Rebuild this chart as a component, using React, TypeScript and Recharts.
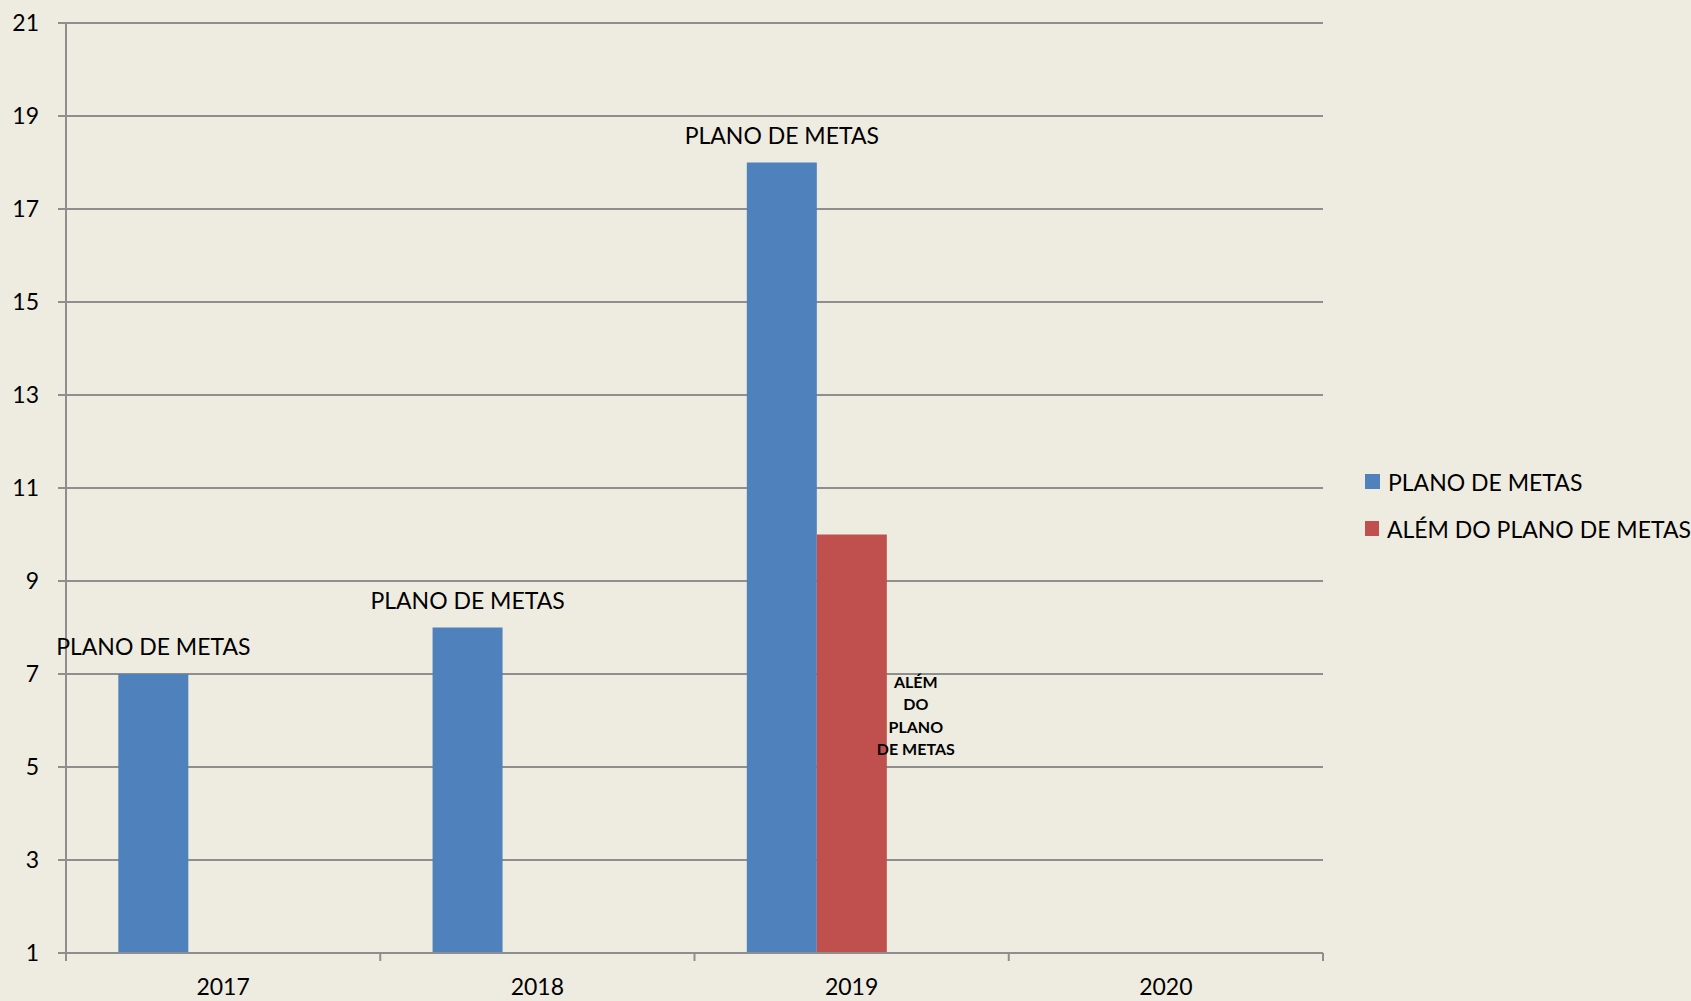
import {
    BarChart,
    Bar,
    XAxis,
    YAxis,
    CartesianGrid,
    Legend,
    LabelList,
} from "recharts";

// ────────────────────────────────────────────────────────────────────────────────
// Data
// ────────────────────────────────────────────────────────────────────────────────

const YEARS = ["2017", "2018", "2019", "2020"];
const PLANO_DE_METAS = [7, 8, 18, null];
const ALEM_DO_PLANO = [null, null, 10, null];
// empty third series in the source workbook, still takes a slot in each cluster
const SERIE_VAZIA = [null, null, null, null];
const Y_TICKS = [1, 3, 5, 7, 9, 11, 13, 15, 17, 19, 21];
const SERIES_NAMES = ["PLANO DE METAS", "ALÉM DO PLANO DE METAS"];

const data = YEARS.map((year, i) => ({
    year,
    plano: PLANO_DE_METAS[i],
    alem: ALEM_DO_PLANO[i],
    vazio: SERIE_VAZIA[i],
}));

// ────────────────────────────────────────────────────────────────────────────────
// Styling
// ────────────────────────────────────────────────────────────────────────────────

const FONT = "Lato, 'Liberation Sans', sans-serif";
const BG = "#EEECE1";
const GRID = "#8E8E8E";
const BLUE = "#4F81BD";
const RED = "#C0504D";
const TEXT_SIZE = 23;

// ────────────────────────────────────────────────────────────────────────────────
// Renderers
// ────────────────────────────────────────────────────────────────────────────────

function XTick(props: any) {
    const { x, y, payload, index, visibleTicksCount } = props;
    const half = payload?.offset ?? 157;
    const last = index === (visibleTicksCount ?? YEARS.length) - 1;
    return (
        <g>
            <line x1={x - half} y1={y} x2={x - half} y2={y + 8} stroke={GRID} strokeWidth={2} />
            {last && (
                <line x1={x + half} y1={y} x2={x + half} y2={y + 8} stroke={GRID} strokeWidth={2} />
            )}
            <text x={x} y={y + 42} textAnchor="middle" fontSize={TEXT_SIZE} fontFamily={FONT} fill="#000">
                {payload.value}
            </text>
        </g>
    );
}

function PlanoLabel(props: any) {
    const { x, y, width, value } = props;
    if (value == null) return null;
    return (
        <text
            x={x + width / 2}
            y={y - 19}
            textAnchor="middle"
            fontSize={TEXT_SIZE}
            fontFamily={FONT}
            fill="#000"
        >
            PLANO DE METAS
        </text>
    );
}

function AlemLabel(props: any) {
    const { x, y, width, height, value } = props;
    if (value == null) return null;
    const lines = ["ALÉM", "DO", "PLANO", "DE METAS"];
    const cx = x + width + 29;
    const cy = y + height * 0.43;
    const lh = 22.5;
    const start = cy - ((lines.length - 1) * lh) / 2;
    return (
        <text
            textAnchor="middle"
            fontSize={16}
            fontWeight="bold"
            fontFamily={FONT}
            fill="#000"
            dominantBaseline="central"
        >
            {lines.map((l, i) => (
                <tspan key={l} x={cx} y={start + i * lh}>
                    {l}
                </tspan>
            ))}
        </text>
    );
}

function LegendBox(props: any) {
    const items = (props.payload || [])
        .filter((p: any) => p.type !== "none")
        .sort((a: any, b: any) => SERIES_NAMES.indexOf(a.value) - SERIES_NAMES.indexOf(b.value));
    return (
        <div style={{ fontFamily: FONT, fontSize: TEXT_SIZE, color: "#000" }}>
            {items.map((p: any) => (
                <div key={p.value} style={{ display: "flex", alignItems: "center", height: 47 }}>
                    <span
                        style={{
                            display: "inline-block",
                            width: 15,
                            height: 15,
                            background: p.color,
                            marginRight: 8,
                        }}
                    />
                    <span style={{ whiteSpace: "nowrap" }}>{p.value}</span>
                </div>
            ))}
        </div>
    );
}

// ────────────────────────────────────────────────────────────────────────────────
// Component
// ────────────────────────────────────────────────────────────────────────────────

export default function App() {
    return (
        <div
            style={{
                position: "absolute",
                left: 0,
                top: 0,
                width: 1691,
                height: 1001,
                background: BG,
                fontFamily: FONT,
            }}
        >
            <BarChart
                width={1691}
                height={1001}
                data={data}
                margin={{ top: 23, right: 368, bottom: 0, left: 0 }}
                barCategoryGap="16.65%"
                barGap={0}
            >
                <CartesianGrid vertical={false} stroke={GRID} strokeWidth={2} />
                <XAxis
                    dataKey="year"
                    height={48}
                    interval={0}
                    tickSize={0}
                    tickMargin={0}
                    tickLine={false}
                    axisLine={{ stroke: GRID, strokeWidth: 2 }}
                    tick={<XTick />}
                />
                <YAxis
                    width={66}
                    domain={[1, 21]}
                    ticks={Y_TICKS}
                    interval={0}
                    allowDataOverflow
                    tickSize={8}
                    tickMargin={19}
                    axisLine={{ stroke: GRID, strokeWidth: 2 }}
                    tickLine={{ stroke: GRID, strokeWidth: 2 }}
                    tick={{ fontSize: TEXT_SIZE, fontFamily: FONT, fill: "#000" }}
                />
                <Legend
                    layout="vertical"
                    align="center"
                    verticalAlign="middle"
                    wrapperStyle={{ left: 1365, top: 458, width: 326 }}
                    content={<LegendBox />}
                />
                <Bar dataKey="plano" name={SERIES_NAMES[0]} fill={BLUE} isAnimationActive={false}>
                    <LabelList dataKey="plano" content={<PlanoLabel />} />
                </Bar>
                <Bar dataKey="alem" name={SERIES_NAMES[1]} fill={RED} isAnimationActive={false}>
                    <LabelList dataKey="alem" content={<AlemLabel />} />
                </Bar>
                <Bar dataKey="vazio" name="vazio" fill="transparent" legendType="none" isAnimationActive={false} />
            </BarChart>
        </div>
    );
}
